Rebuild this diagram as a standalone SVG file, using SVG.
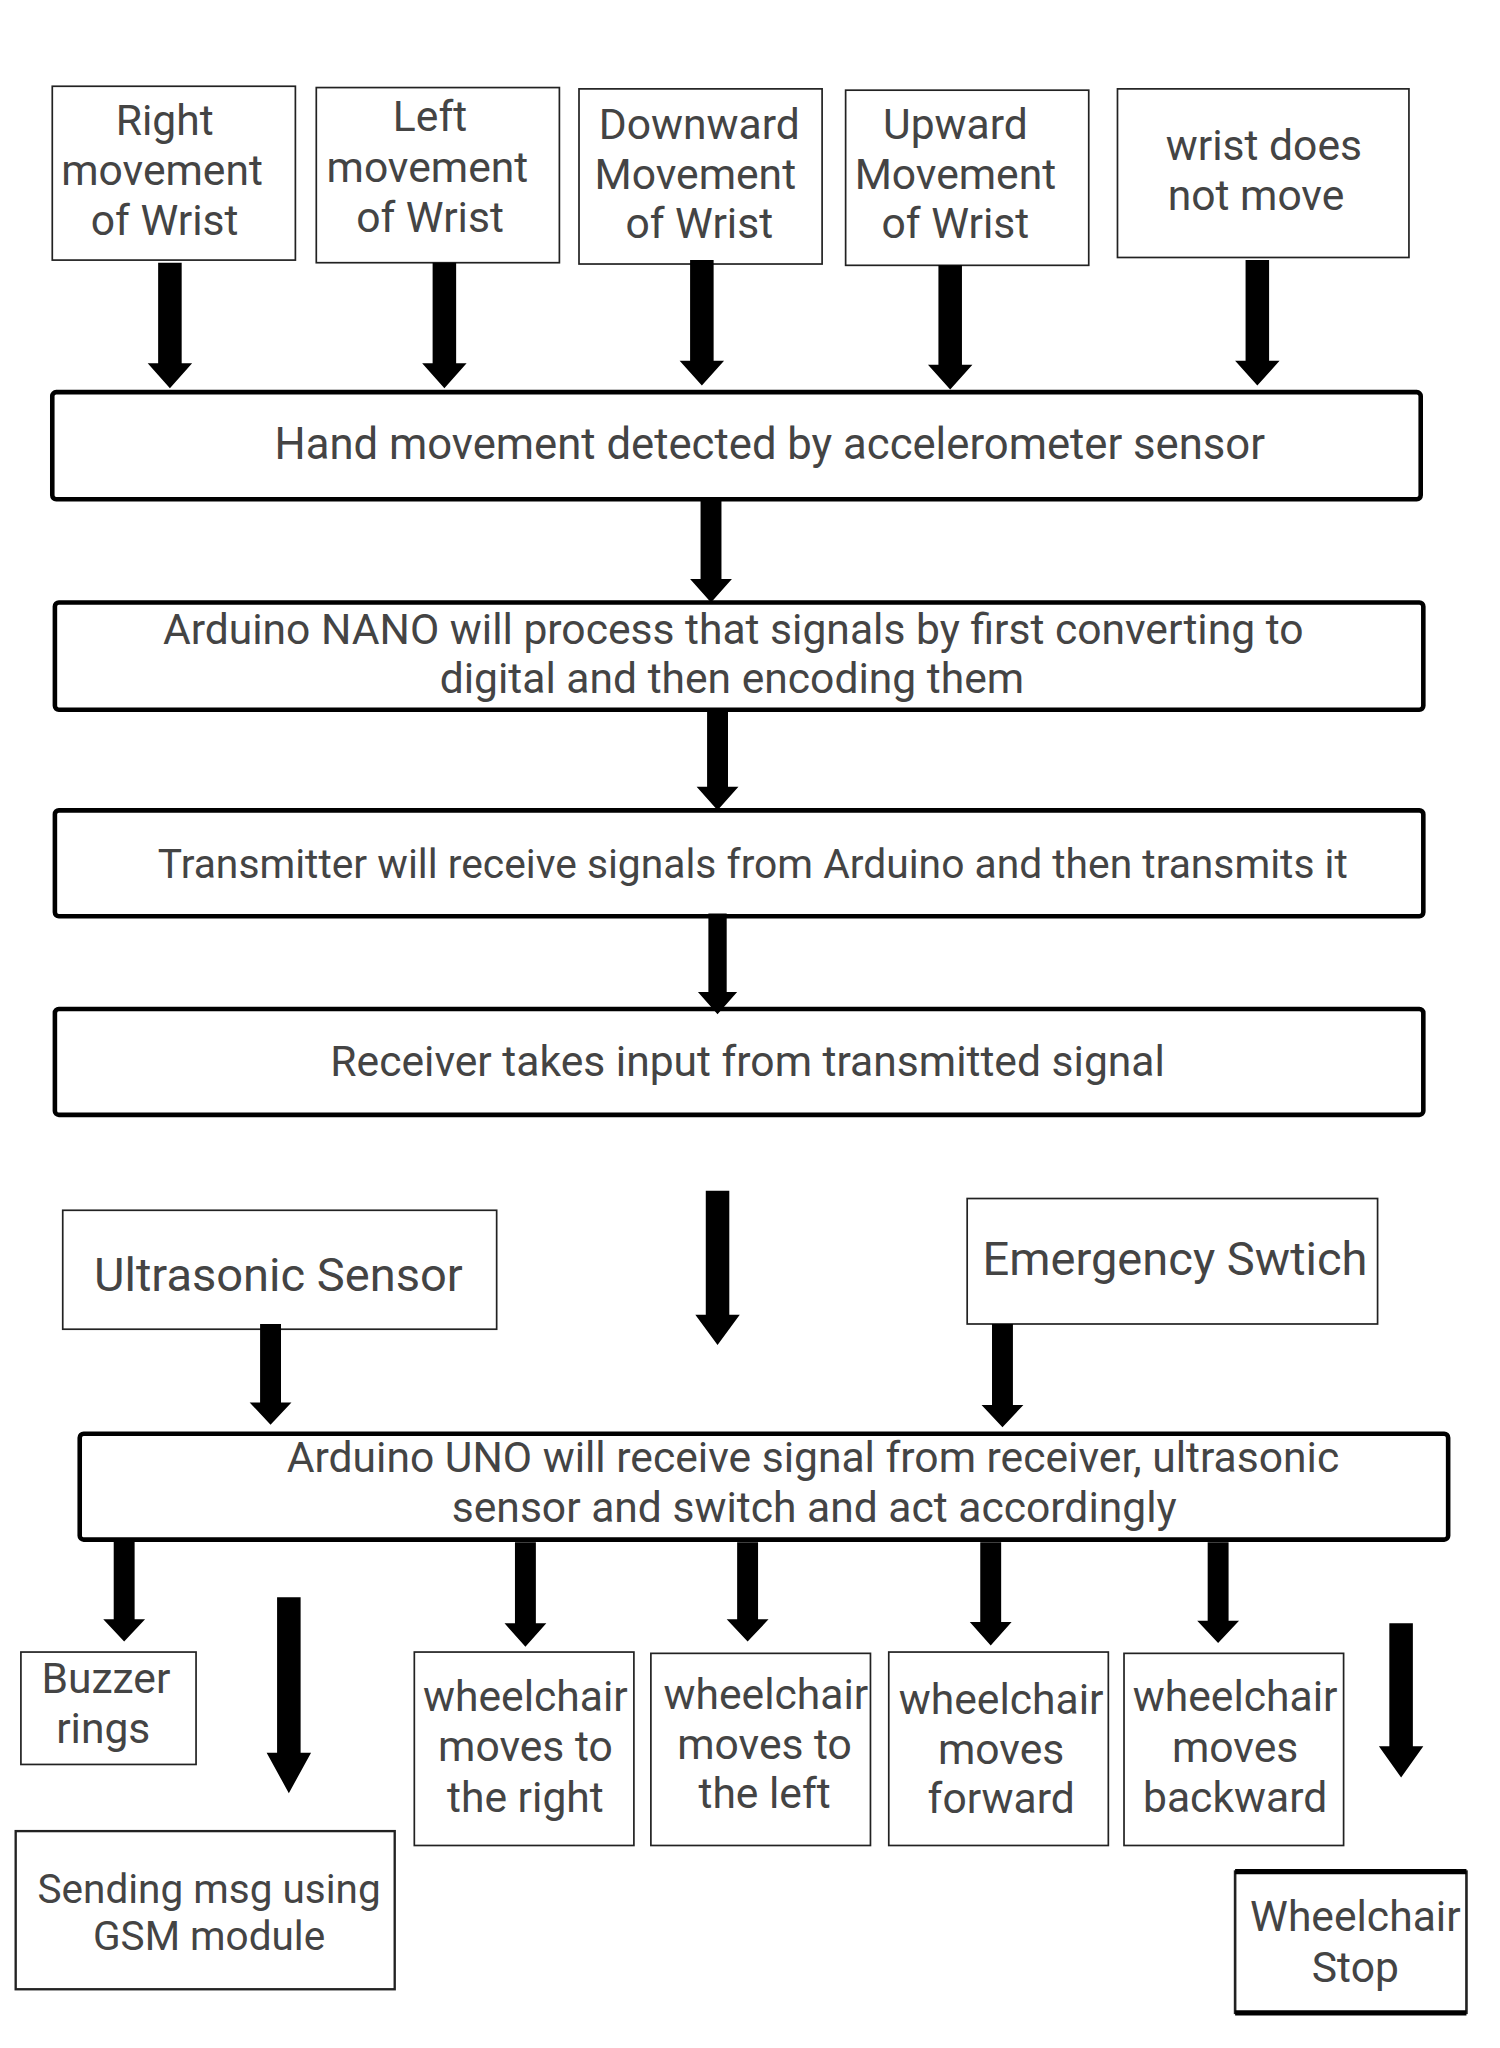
<svg xmlns="http://www.w3.org/2000/svg" width="1500" height="2048" viewBox="0 0 1500 2048">
<style>
.bx{fill:#fff;stroke:#222;stroke-width:1.3}
.bk{fill:#fff;stroke:#000;stroke-width:3.5}
.t{font-family:Roboto,"Liberation Sans",sans-serif;font-size:32.6px;fill:#444;text-anchor:middle;dominant-baseline:central}
.a{fill:#000}
</style>
<rect width="1500" height="2048" fill="#fff"/>
<g transform="scale(1.307)">
<g id="n-right"><rect class="bx" x="40" y="66" width="186" height="133"/><text class="t" x="126" y="92">Right</text><text class="t" x="124" y="130">movement</text><text class="t" x="126" y="168">of Wrist</text></g>
<g id="n-left"><rect class="bx" x="242" y="67" width="186" height="134"/><text class="t" x="329" y="89">Left</text><text class="t" x="327" y="128">movement</text><text class="t" x="329" y="166">of Wrist</text></g>
<g id="n-down"><rect class="bx" x="443" y="68" width="186" height="134"/><text class="t" x="535" y="95">Downward</text><text class="t" x="532" y="133">Movement</text><text class="t" x="535" y="171">of Wrist</text></g>
<g id="n-up"><rect class="bx" x="647" y="69" width="186" height="134"/><text class="t" x="731" y="95">Upward</text><text class="t" x="731" y="133">Movement</text><text class="t" x="731" y="171">of Wrist</text></g>
<g id="n-still"><rect class="bx" x="855" y="68" width="223" height="129"/><text class="t" x="967" y="111">wrist does</text><text class="t" x="961" y="149">not move</text></g>
<g id="n-hand"><rect class="bk" x="40" y="300" width="1047" height="82" rx="3"/><text class="t" x="589" y="340" style="font-size:33.4px">Hand movement detected by accelerometer sensor</text></g>
<g id="n-nano"><rect class="bk" x="42" y="461" width="1047" height="82" rx="3"/><text class="t" x="561" y="481">Arduino NANO will process that signals by first converting to</text><text class="t" x="560" y="519">digital and then encoding them</text></g>
<g id="n-tx"><rect class="bk" x="42" y="620" width="1047" height="81" rx="3"/><text class="t" x="576" y="661" style="font-size:31.2px">Transmitter will receive signals from Arduino and then transmits it</text></g>
<g id="n-rx"><rect class="bk" x="42" y="772" width="1047" height="81" rx="3"/><text class="t" x="572" y="812">Receiver takes input from transmitted signal</text></g>
<g id="n-ultra"><rect class="bx" x="48" y="926" width="332" height="91"/><text class="t" x="213" y="975" style="font-size:36px">Ultrasonic Sensor</text></g>
<g id="n-emerg"><rect class="bx" x="740" y="917" width="314" height="96"/><text class="t" x="899" y="963" style="font-size:36px">Emergency Swtich</text></g>
<g id="n-uno"><rect class="bk" x="61" y="1097" width="1047" height="81" rx="3"/><text class="t" x="622" y="1115">Arduino UNO will receive signal from receiver, ultrasonic</text><text class="t" x="623" y="1153">sensor and switch and act accordingly</text></g>
<g id="n-buzz"><rect class="bx" x="16" y="1264" width="134" height="86"/><text class="t" x="81" y="1284">Buzzer</text><text class="t" x="79" y="1322">rings</text></g>
<g id="n-gsm"><rect class="bx" x="12" y="1401" width="290" height="121" style="stroke-width:1.8"/><text class="t" x="160" y="1445" style="font-size:31px">Sending msg using</text><text class="t" x="160" y="1481" style="font-size:31px">GSM module</text></g>
<g id="n-mright"><rect class="bx" x="317" y="1264" width="168" height="148"/><text class="t" x="402" y="1298">wheelchair</text><text class="t" x="402" y="1336">moves to</text><text class="t" x="402" y="1375">the right</text></g>
<g id="n-mleft"><rect class="bx" x="498" y="1265" width="168" height="147"/><text class="t" x="586" y="1296">wheelchair</text><text class="t" x="585" y="1334">moves to</text><text class="t" x="585" y="1372">the left</text></g>
<g id="n-fwd"><rect class="bx" x="680" y="1264" width="168" height="148"/><text class="t" x="766" y="1300">wheelchair</text><text class="t" x="766" y="1338">moves</text><text class="t" x="766" y="1376">forward</text></g>
<g id="n-back"><rect class="bx" x="860" y="1265" width="168" height="147"/><text class="t" x="945" y="1298">wheelchair</text><text class="t" x="945" y="1337">moves</text><text class="t" x="945" y="1375">backward</text></g>
<g id="n-stop"><rect class="bx" x="945" y="1432" width="177" height="108" style="stroke-width:2"/><line x1="945" y1="1432" x2="1122" y2="1432" stroke="#000" stroke-width="4"/><line x1="945" y1="1540" x2="1122" y2="1540" stroke="#000" stroke-width="4"/><text class="t" x="1037" y="1466">Wheelchair</text><text class="t" x="1037" y="1505">Stop</text></g>
<g id="connectors">
<polygon class="a" points="121,201 139,201 139,278 147,278 130,297 113,278 121,278"/>
<polygon class="a" points="331,201 349,201 349,278 357,278 340,297 323,278 331,278"/>
<polygon class="a" points="528,199 546,199 546,276 554,276 537,295 520,276 528,276"/>
<polygon class="a" points="718,203 736,203 736,279 744,279 727,298 710,279 718,279"/>
<polygon class="a" points="953,199 971,199 971,276 979,276 962,295 945,276 953,276"/>
<polygon class="a" points="536,382 552,382 552,443 560,443 544,461 528,443 536,443"/>
<polygon class="a" points="541,543 557,543 557,602 565,602 549,620 533,602 541,602"/>
<polygon class="a" points="542,699 556,699 556,759 564,759 549,776 534,759 542,759"/>
<polygon class="a" points="540,911 558,911 558,1006 566,1006 549,1029 532,1006 540,1006"/>
<polygon class="a" points="199,1013 215,1013 215,1073 223,1073 207,1090 191,1073 199,1073"/>
<polygon class="a" points="759,1013 775,1013 775,1075 783,1075 767,1092 751,1075 759,1075"/>
<polygon class="a" points="87,1178 103,1178 103,1239 111,1239 95,1256 79,1239 87,1239"/>
<polygon class="a" points="212,1222 230,1222 230,1341 238,1341 221,1372 204,1341 212,1341"/>
<polygon class="a" points="394,1180 410,1180 410,1242 418,1242 402,1260 386,1242 394,1242"/>
<polygon class="a" points="564,1180 580,1180 580,1239 588,1239 572,1256 556,1239 564,1239"/>
<polygon class="a" points="750,1180 766,1180 766,1241 774,1241 758,1259 742,1241 750,1241"/>
<polygon class="a" points="924,1180 940,1180 940,1240 948,1240 932,1257 916,1240 924,1240"/>
<polygon class="a" points="1063,1242 1081,1242 1081,1336 1089,1336 1072,1360 1055,1336 1063,1336"/>
</g>
</g>
</svg>
